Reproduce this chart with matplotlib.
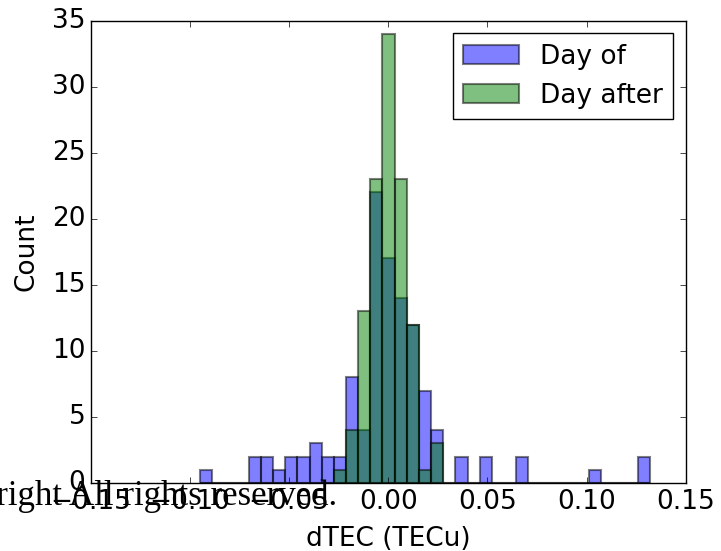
import numpy as np
import matplotlib
matplotlib.use("Agg")
import matplotlib.pyplot as plt

# shared bin layout (37 equal bins) and counts per bin
bin_lo = -0.0949
bin_hi = 0.1320
n_bins = 37
day_of = [1, 0, 0, 0, 2, 2, 1, 2, 2, 3, 2, 2, 8, 4, 22, 17, 14, 12, 7, 4,
          0, 2, 0, 2, 0, 0, 2, 0, 0, 0, 0, 0, 1, 0, 0, 0, 2]
day_after = [0, 0, 0, 0, 0, 0, 0, 0, 0, 0, 0, 1, 4, 13, 23, 34, 23, 12, 1, 3,
             0, 0, 0, 0, 0, 0, 0, 0, 0, 0, 0, 0, 0, 0, 0, 0, 0]
labels = ["Day of", "Day after"]
x_ticks = [-0.15, -0.10, -0.05, 0.00, 0.05, 0.10, 0.15]
y_ticks = [0, 5, 10, 15, 20, 25, 30, 35]

plt.style.use('classic')
plt.rcParams['font.size'] = 19

edges = np.linspace(bin_lo, bin_hi, n_bins + 1)
centers = 0.5 * (edges[:-1] + edges[1:])

fig = plt.figure(figsize=(7.21, 5.51), dpi=100, facecolor='white')
ax = fig.add_axes([0.126, 0.1234, 0.825, 0.839])

ax.hist(centers, bins=edges, weights=day_of, color='b', alpha=0.5,
        linewidth=1.5, label=labels[0])
ax.hist(centers, bins=edges, weights=day_after, color='g', alpha=0.5,
        linewidth=1.5, label=labels[1])

ax.set_xlim(-0.15, 0.15)
ax.set_ylim(0, 35)
ax.set_xticks(x_ticks)
ax.set_yticks(y_ticks)
ax.set_xlabel('dTEC (TECu)', labelpad=8)
ax.set_ylabel('Count', labelpad=9)
ax.legend(loc='upper right', fontsize=19, handlelength=2.1,
          handletextpad=0.8, borderaxespad=0.47)

fig.text(0.468, 0.0835, 'Copyright All rights reserved.', ha='right',
         va='baseline', family='Liberation Serif', fontsize=25)

fig.savefig('out.png', dpi=100, facecolor='white')
